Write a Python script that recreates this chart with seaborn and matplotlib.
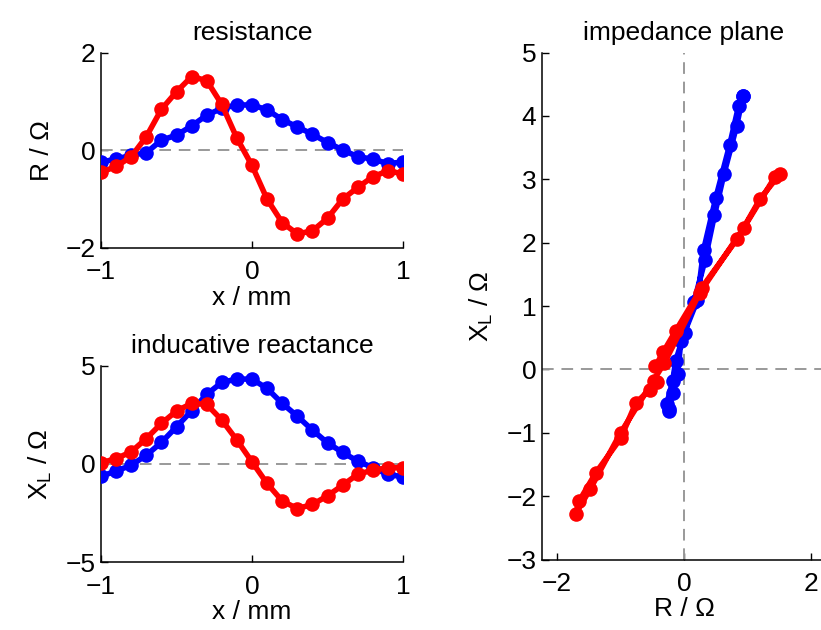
import numpy as np
import pandas as pd
import matplotlib
matplotlib.use("Agg")
import matplotlib.pyplot as plt
import seaborn as sns

sns.set_style("ticks")
plt.rcParams['font.family'] = ['Liberation Sans', 'DejaVu Sans']
plt.rcParams['mathtext.fontset'] = 'custom'
plt.rcParams['mathtext.rm'] = 'Liberation Sans'
plt.rcParams['font.size'] = 19
for k in ['text.color', 'axes.labelcolor', 'xtick.color', 'ytick.color']:
    plt.rcParams[k] = 'black'

# position along x / mm
x_mm = [-1.0, -0.9, -0.8, -0.7, -0.6, -0.5, -0.4, -0.3, -0.2, -0.1, 0.0,
        0.1, 0.2, 0.3, 0.4, 0.5, 0.6, 0.7, 0.8, 0.9, 1.0]

# resistance / Ohm
R_blue = [-0.24, -0.18, -0.10, -0.05, 0.21, 0.31, 0.50, 0.72, 0.86, 0.93, 0.93,
          0.83, 0.63, 0.48, 0.33, 0.16, 0.01, -0.13, -0.18, -0.27, -0.24]
R_red = [-0.45, -0.33, -0.13, 0.28, 0.84, 1.20, 1.51, 1.43, 0.94, 0.25, -0.31,
         -1.00, -1.48, -1.71, -1.65, -1.39, -1.00, -0.76, -0.54, -0.42, -0.48]

# inductive reactance / Ohm
XL_blue = [-0.63, -0.37, -0.07, 0.44, 1.09, 1.89, 2.70, 3.54, 4.15, 4.32, 4.32,
           3.84, 3.08, 2.43, 1.72, 1.07, 0.58, 0.14, -0.19, -0.54, -0.66]
XL_red = [0.05, 0.27, 0.61, 1.29, 2.06, 2.69, 3.08, 3.03, 2.23, 1.21, 0.10,
          -1.00, -1.89, -2.28, -2.07, -1.63, -1.09, -0.53, -0.32, -0.20, -0.19]

series = ['blue', 'red']
colors = {'blue': '#0000ff', 'red': '#ff0000'}

df = pd.concat([
    pd.DataFrame({'x': x_mm, 'R': R_blue, 'XL': XL_blue, 's': 'blue'}),
    pd.DataFrame({'x': x_mm, 'R': R_red, 'XL': XL_red, 's': 'red'}),
], ignore_index=True)

W, H = 821, 630
fig = plt.figure(figsize=(W / 100, H / 100), dpi=100)

def rect(l, t, r, b):
    return [l / W, 1 - b / H, (r - l) / W, (b - t) / H]

ax1 = fig.add_axes(rect(101, 52.7, 403, 248))
ax2 = fig.add_axes(rect(101, 365.7, 403, 562))
ax3 = fig.add_axes(rect(542, 52.5, 826, 559.5))

lw = 4.0
ms = 10.5
gray = '#999999'

def style(ax):
    sns.despine(ax=ax)
    ax.tick_params(axis='both', direction='in', length=5, width=1, labelsize=19)
    ax.tick_params(axis='x', pad=9)
    ax.tick_params(axis='y', pad=4)
    for s in ['left', 'bottom']:
        ax.spines[s].set_linewidth(1.1)
        ax.spines[s].set_color('black')

for ax, col, ylab, ylim, yticks, title in [
    (ax1, 'R', 'R / Ω', (-2, 2), [-2, 0, 2], 'resistance'),
    (ax2, 'XL', r'X$_\mathregular{L}$ / Ω', (-5, 5), [-5, 0, 5], 'inducative reactance'),
]:
    ax.axhline(0, color=gray, lw=1.4, ls=(0, (6, 4)), zorder=1)
    sns.lineplot(data=df, x='x', y=col, hue='s', hue_order=series, palette=colors,
                 marker='o', markersize=ms, markeredgewidth=0, linewidth=lw,
                 estimator=None, sort=False, legend=False, ax=ax, zorder=3)
    ax.set_xlim(-1, 1)
    ax.set_ylim(*ylim)
    ax.set_xticks([-1, 0, 1])
    ax.set_xticklabels(['−1', '0', '1'])
    ax.set_yticks(yticks)
    ax.set_yticklabels([str(v).replace('-', '−') for v in yticks])
    ax.set_xlabel('x / mm', fontsize=19, labelpad=1)
    ax.set_ylabel(ylab, fontsize=19, labelpad=8)
    ax.set_title(title, fontsize=19, pad=9)
    style(ax)

ax3.axhline(0, color=gray, lw=1.4, ls=(0, (6, 4)), zorder=1)
ax3.axvline(0, color=gray, lw=1.4, ls=(0, (6, 4)), zorder=1)
sns.lineplot(data=df, x='R', y='XL', hue='s', hue_order=series, palette=colors,
             marker='o', markersize=ms, markeredgewidth=0, linewidth=lw,
             estimator=None, sort=False, legend=False, ax=ax3, zorder=3)
ax3.set_xlim(-2.24, 2.24)
ax3.set_ylim(-3, 5)
ax3.set_xticks([-2, 0, 2])
ax3.set_xticklabels(['−2', '0', '2'])
ax3.set_yticks(range(-3, 6))
ax3.set_yticklabels([str(v).replace('-', '−') for v in range(-3, 6)])
ax3.set_xlabel('R / Ω', fontsize=19, labelpad=1)
ax3.set_ylabel(r'X$_\mathregular{L}$ / Ω', fontsize=19, labelpad=8)
ax3.set_title('impedance plane', fontsize=19, pad=9)
style(ax3)

fig.savefig('out.png', dpi=100)
